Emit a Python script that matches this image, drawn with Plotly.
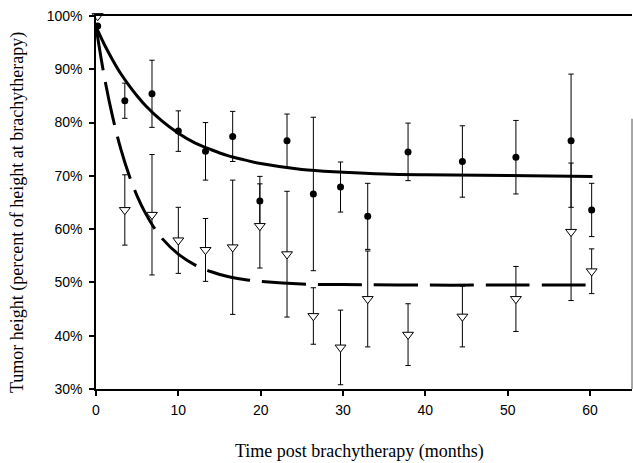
import plotly.graph_objects as go

# Observed data: months post brachytherapy, tumor height (% of height at brachytherapy), SE
circle_months = [0.2, 3.5, 6.8, 10.0, 13.3, 16.6, 19.9, 23.2, 26.4, 29.7, 33.0, 37.9, 44.5, 51.0, 57.7, 60.2]
circle_height = [98.1, 84.1, 85.4, 78.4, 74.6, 77.4, 65.3, 76.6, 66.6, 67.9, 62.4, 74.5, 72.7, 73.5, 76.6, 63.6]
circle_err = [0, 3.3, 6.3, 3.8, 5.4, 4.7, 4.6, 5.0, 14.4, 4.7, 6.2, 5.4, 6.7, 6.9, 12.5, 5.0]

tri_months = [0.2, 3.5, 6.8, 10.0, 13.3, 16.6, 19.9, 23.2, 26.4, 29.7, 33.0, 37.9, 44.5, 51.0, 57.7, 60.2]
tri_height = [100.0, 63.6, 62.7, 57.9, 56.1, 56.6, 60.6, 55.3, 43.7, 37.8, 46.9, 40.2, 43.6, 46.9, 59.5, 52.1]
tri_err = [0, 6.6, 11.3, 6.2, 5.9, 12.6, 7.9, 11.8, 5.3, 7.0, 9.0, 5.8, 5.7, 6.1, 12.9, 4.2]

# Fitted curves
solid_months = [0, 1, 2, 3, 4, 5, 6, 8, 10, 12, 14, 16, 18, 20, 25, 30, 35, 40, 50, 60.3]
solid_height = [98.0, 94.7, 91.8, 89.2, 87.0, 85.0, 83.2, 80.3, 78.0, 76.2, 74.9, 73.8, 73.0, 72.3, 71.2, 70.7, 70.35, 70.2, 70.05, 69.9]

dash_months = [0, 1, 2, 3, 4, 5, 6, 7, 8, 10, 12, 14, 16, 18, 20, 25, 30, 40, 50, 60.2]
dash_height = [98.0, 88.7, 81.2, 75.1, 70.2, 66.2, 63.0, 60.4, 58.3, 55.3, 53.3, 52.0, 51.1, 50.55, 50.2, 49.7, 49.6, 49.5, 49.5, 49.5]

x_ticks = [0, 10, 20, 30, 40, 50, 60]
y_ticks = [30, 40, 50, 60, 70, 80, 90, 100]
y_tick_labels = ["30%", "40%", "50%", "60%", "70%", "80%", "90%", "100%"]

fig = go.Figure()

fig.add_trace(go.Scatter(x=solid_months, y=solid_height, mode="lines", line_shape="spline",
                         line=dict(color="black", width=3), hoverinfo="skip", showlegend=False))
fig.add_trace(go.Scatter(x=dash_months, y=dash_height, mode="lines", line_shape="spline",
                         line=dict(color="black", width=3, dash="44px,12px"), hoverinfo="skip", showlegend=False))

fig.add_trace(go.Scatter(
    x=circle_months, y=circle_height, mode="markers",
    marker=dict(symbol="circle", size=7, color="black"),
    error_y=dict(type="data", array=circle_err, visible=True, color="black", thickness=1, width=2.7),
    cliponaxis=False, showlegend=False))

fig.add_trace(go.Scatter(
    x=tri_months, y=tri_height, mode="markers",
    marker=dict(symbol="triangle-down", size=9.5, color="white", line=dict(color="black", width=1)),
    error_y=dict(type="data", array=tri_err, visible=True, color="black", thickness=1, width=2.7),
    cliponaxis=False, showlegend=False))

# partial right border as seen in the scanned figure
fig.add_shape(type="line", xref="paper", yref="y", x0=1, x1=1, y0=30, y1=80.7,
              line=dict(color="#888888", width=1.5))

fig.update_xaxes(range=[0, 65.1], tickvals=x_ticks, showgrid=False, zeroline=False,
                 showline=True, linecolor="black", linewidth=1.5, mirror=True,
                 ticks="outside", ticklen=5, tickcolor="black", tickwidth=1.5, automargin=False,
                 ticklabelstandoff=2,
                 tickfont=dict(family="Liberation Sans, Arial", size=14, color="black"))
fig.update_yaxes(range=[30, 100], tickvals=y_ticks, ticktext=y_tick_labels, showgrid=False, zeroline=False,
                 showline=True, linecolor="black", linewidth=1.5, automargin=False,
                 ticks="outside", ticklen=5, tickcolor="black", tickwidth=1.5, ticklabelstandoff=4,
                 tickfont=dict(family="Liberation Sans, Arial", size=14, color="black"))

fig.add_annotation(text="Time post brachytherapy (months)", xref="paper", yref="paper",
                   x=0.4916, y=-0.168, xanchor="center", yanchor="middle", showarrow=False,
                   font=dict(family="Liberation Serif, Times New Roman", size=18, color="black"))
fig.add_annotation(text="Tumor height (percent of height at brachytherapy)", xref="paper", yref="paper",
                   x=-0.1474, y=0.4745, xanchor="center", yanchor="middle", showarrow=False, textangle=-90,
                   font=dict(family="Liberation Serif, Times New Roman", size=18, color="black"))

fig.update_layout(width=633, height=463, margin=dict(l=96, r=1, t=16, b=74),
                  plot_bgcolor="white", paper_bgcolor="white")

fig.write_html("out.html", config=dict(displayModeBar=False),
               post_script="document.body.style.margin='0';document.body.style.overflow='hidden';")
